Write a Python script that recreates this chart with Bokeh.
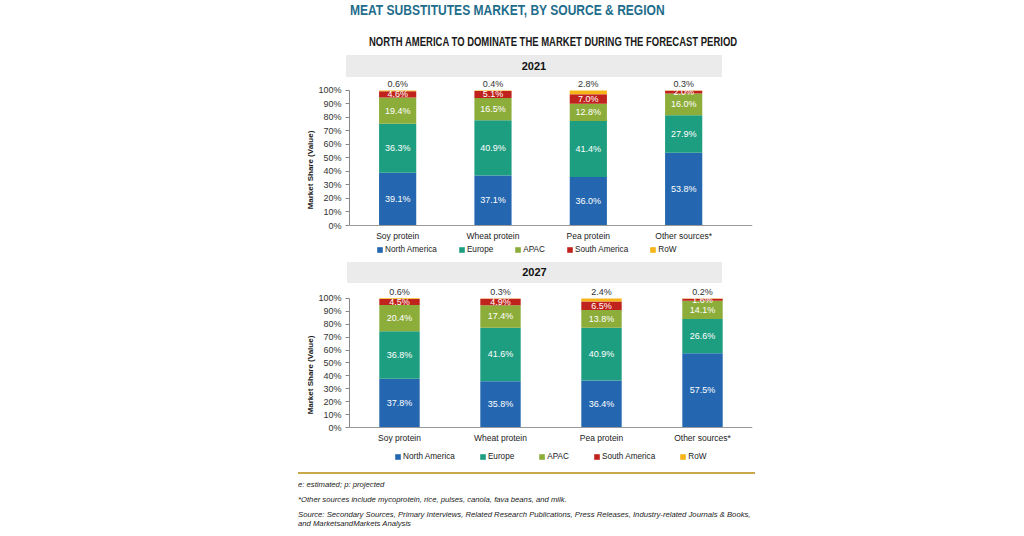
from bokeh.plotting import figure
from bokeh.models import (ColumnDataSource, Range1d, FixedTicker, NumeralTickFormatter,
                          Legend, LegendItem, Div)
from bokeh.layouts import column
from bokeh.embed import file_html
from bokeh.resources import INLINE
from bokeh.core.properties import value

# ---------------- data ----------------
sources = ["Soy protein", "Wheat protein", "Pea protein", "Other sources*"]
regions = ["North America", "Europe", "APAC", "South America", "RoW"]
colors = ["#2467b0", "#1e9e81", "#8dad3b", "#c0231d", "#f6b419"]

na_2021 = [39.1, 37.1, 36.0, 53.8]
eu_2021 = [36.3, 40.9, 41.4, 27.9]
apac_2021 = [19.4, 16.5, 12.8, 16.0]
sa_2021 = [4.6, 5.1, 7.0, 2.0]
row_2021 = [0.6, 0.4, 2.8, 0.3]

na_2027 = [37.8, 35.8, 36.4, 57.5]
eu_2027 = [36.8, 41.6, 40.9, 26.6]
apac_2027 = [20.4, 17.4, 13.8, 14.1]
sa_2027 = [4.5, 4.9, 6.5, 1.6]
row_2027 = [0.6, 0.3, 2.4, 0.2]

y_ticks = [0, 0.1, 0.2, 0.3, 0.4, 0.5, 0.6, 0.7, 0.8, 0.9, 1.0]

FONT = "Liberation Sans"
W = 1016


def make_chart(series, x_start, x_end, y_start, y_end, bar_w, height, b_left, b_right,
               legend_loc, legend_spacing):
    xs = list(range(len(sources)))
    data = {"x": xs}
    for r, s in zip(regions, series):
        data[r] = [v / 100.0 for v in s]
    src = ColumnDataSource(data)

    p = figure(width=W, height=height, output_backend="svg", toolbar_location=None,
               x_range=Range1d(x_start, x_end), y_range=Range1d(y_start, y_end),
               min_border_left=b_left, min_border_right=b_right,
               min_border_top=0, min_border_bottom=0)
    p.outline_line_color = None
    p.xgrid.visible = False
    p.ygrid.visible = False
    p.background_fill_color = "white"
    p.border_fill_color = "white"

    rends = p.vbar_stack(regions, x="x", width=bar_w, color=colors, source=src,
                         line_color=None)

    # segment labels (inside bars)
    lx, ly, lt = [], [], []
    for i in xs:
        bottom = 0.0
        for r, s in zip(regions[:-1], series[:-1]):
            v = s[i] / 100.0
            lx.append(i)
            ly.append(bottom + v / 2)
            lt.append(f"{s[i]:.1f}%")
            bottom += v
    p.text(x="x", y="y", text="t", source=ColumnDataSource(dict(x=lx, y=ly, t=lt)),
           text_color="white", text_font=value(FONT), text_font_size="9px",
           text_align="center", text_baseline="middle")

    # RoW labels above bars
    tops = [sum(s[i] for s in series) / 100.0 for i in xs]
    p.text(x="x", y="y", text="t",
           source=ColumnDataSource(dict(x=xs, y=tops, t=[f"{v:.1f}%" for v in series[-1]])),
           text_color="#333333", text_font=value(FONT), text_font_size="9px",
           text_align="center", text_baseline="bottom", y_offset=-1)

    # axes
    p.yaxis.ticker = FixedTicker(ticks=y_ticks)
    p.yaxis.formatter = NumeralTickFormatter(format="0%")
    p.yaxis.bounds = (0, 1)
    p.yaxis.minor_tick_line_color = None
    p.yaxis.major_tick_in = 0
    p.yaxis.major_tick_out = 4
    p.yaxis.major_tick_line_color = "#888888"
    p.yaxis.axis_line_color = "#888888"
    p.yaxis.major_label_text_font = FONT
    p.yaxis.major_label_text_font_size = "9px"
    p.yaxis.major_label_text_color = "#333333"
    p.yaxis.major_label_standoff = 4
    p.yaxis.axis_label = "Market Share (Value)"
    p.yaxis.axis_label_text_font = FONT
    p.yaxis.axis_label_text_font_size = "8px"
    p.yaxis.axis_label_text_font_style = "bold"
    p.yaxis.axis_label_text_color = "#222222"
    p.yaxis.axis_label_standoff = 0

    p.xaxis.fixed_location = 0
    p.xaxis.ticker = FixedTicker(ticks=xs)
    p.xaxis.major_label_overrides = {i: s for i, s in zip(xs, sources)}
    p.xaxis.major_tick_line_color = None
    p.xaxis.major_tick_in = 0
    p.xaxis.major_tick_out = 0
    p.xaxis.minor_tick_line_color = None
    p.xaxis.axis_line_color = "#999999"
    p.xaxis.major_label_text_font = FONT
    p.xaxis.major_label_text_font_size = "8.5px"
    p.xaxis.major_label_text_color = "#222222"
    p.xaxis.major_label_standoff = 5

    items = [LegendItem(label=r, renderers=[rd]) for r, rd in zip(regions, rends)]
    leg = Legend(items=items, orientation="horizontal", location=legend_loc,
                 glyph_width=7, glyph_height=7, label_standoff=2, spacing=legend_spacing,
                 padding=0, margin=0, label_text_font=FONT,
                 label_text_font_size="8.2px",
                 label_text_color="#222222", background_fill_alpha=0,
                 border_line_color=None, label_height=10)
    p.add_layout(leg)
    return p


s2021 = [na_2021, eu_2021, apac_2021, sa_2021, row_2021]
s2027 = [na_2027, eu_2027, apac_2027, sa_2027, row_2027]

p1 = make_chart(s2021, -0.505, 3.722, -0.274, 1.096, 0.39, 185, 347, 259, (27, 8), 21)
p2 = make_chart(s2027, -0.495, 3.495, -0.302, 1.116, 0.40, 183, 349, 264, (45, 5), 24)

NARROW = "font-family:'Liberation Sans';font-weight:bold;transform-origin:0 0;white-space:nowrap;"

header = Div(width=W, height=77, margin=(0, 0, 0, 0), text=f"""
<div style="position:relative;width:{W}px;height:77px;">
 <div style="position:absolute;left:350px;top:2px;{NARROW}transform:scaleX(0.86);font-size:14px;line-height:16px;color:#1e6d8c;">MEAT SUBSTITUTES MARKET, BY SOURCE &amp; REGION</div>
 <div style="position:absolute;left:369px;top:35px;{NARROW}transform:scaleX(0.79);font-size:12px;line-height:14px;color:#1a1a1a;">NORTH AMERICA TO DOMINATE THE MARKET DURING THE FORECAST PERIOD</div>
 <div style="position:absolute;left:346px;top:55px;width:376px;height:22px;background:#ebebeb;text-align:center;font-family:'Liberation Sans';font-weight:bold;font-size:11px;line-height:22px;color:#111;">2021</div>
</div>""")

band2 = Div(width=W, height=21, margin=(0, 0, 0, 0), text=f"""
<div style="position:relative;width:{W}px;height:21px;">
 <div style="position:absolute;left:347px;top:0px;width:375px;height:21px;background:#ebebeb;text-align:center;font-family:'Liberation Sans';font-weight:bold;font-size:11px;line-height:21px;color:#111;">2027</div>
</div>""")

footer = Div(width=W, height=62, margin=(0, 0, 0, 0), text=f"""
<div style="position:relative;width:{W}px;height:62px;font-family:'Liberation Sans';font-style:italic;font-size:7.7px;line-height:9px;color:#222;">
 <div style="position:absolute;left:298px;top:6px;width:457px;height:2px;background:#c9a84c;"></div>
 <div style="position:absolute;left:298px;top:14px;white-space:nowrap;">e: estimated; p: projected</div>
 <div style="position:absolute;left:298px;top:29px;white-space:nowrap;">*Other sources include mycoprotein, rice, pulses, canola, fava beans, and milk.</div>
 <div style="position:absolute;left:298px;top:44px;white-space:nowrap;">Source: Secondary Sources, Primary Interviews, Related Research Publications, Press Releases, Industry-related Journals &amp; Books,</div>
 <div style="position:absolute;left:298px;top:53px;white-space:nowrap;">and MarketsandMarkets Analysis</div>
</div>""")

layout = column(header, p1, band2, p2, footer, spacing=0)
open("out.html", "w").write(file_html(layout, INLINE))
